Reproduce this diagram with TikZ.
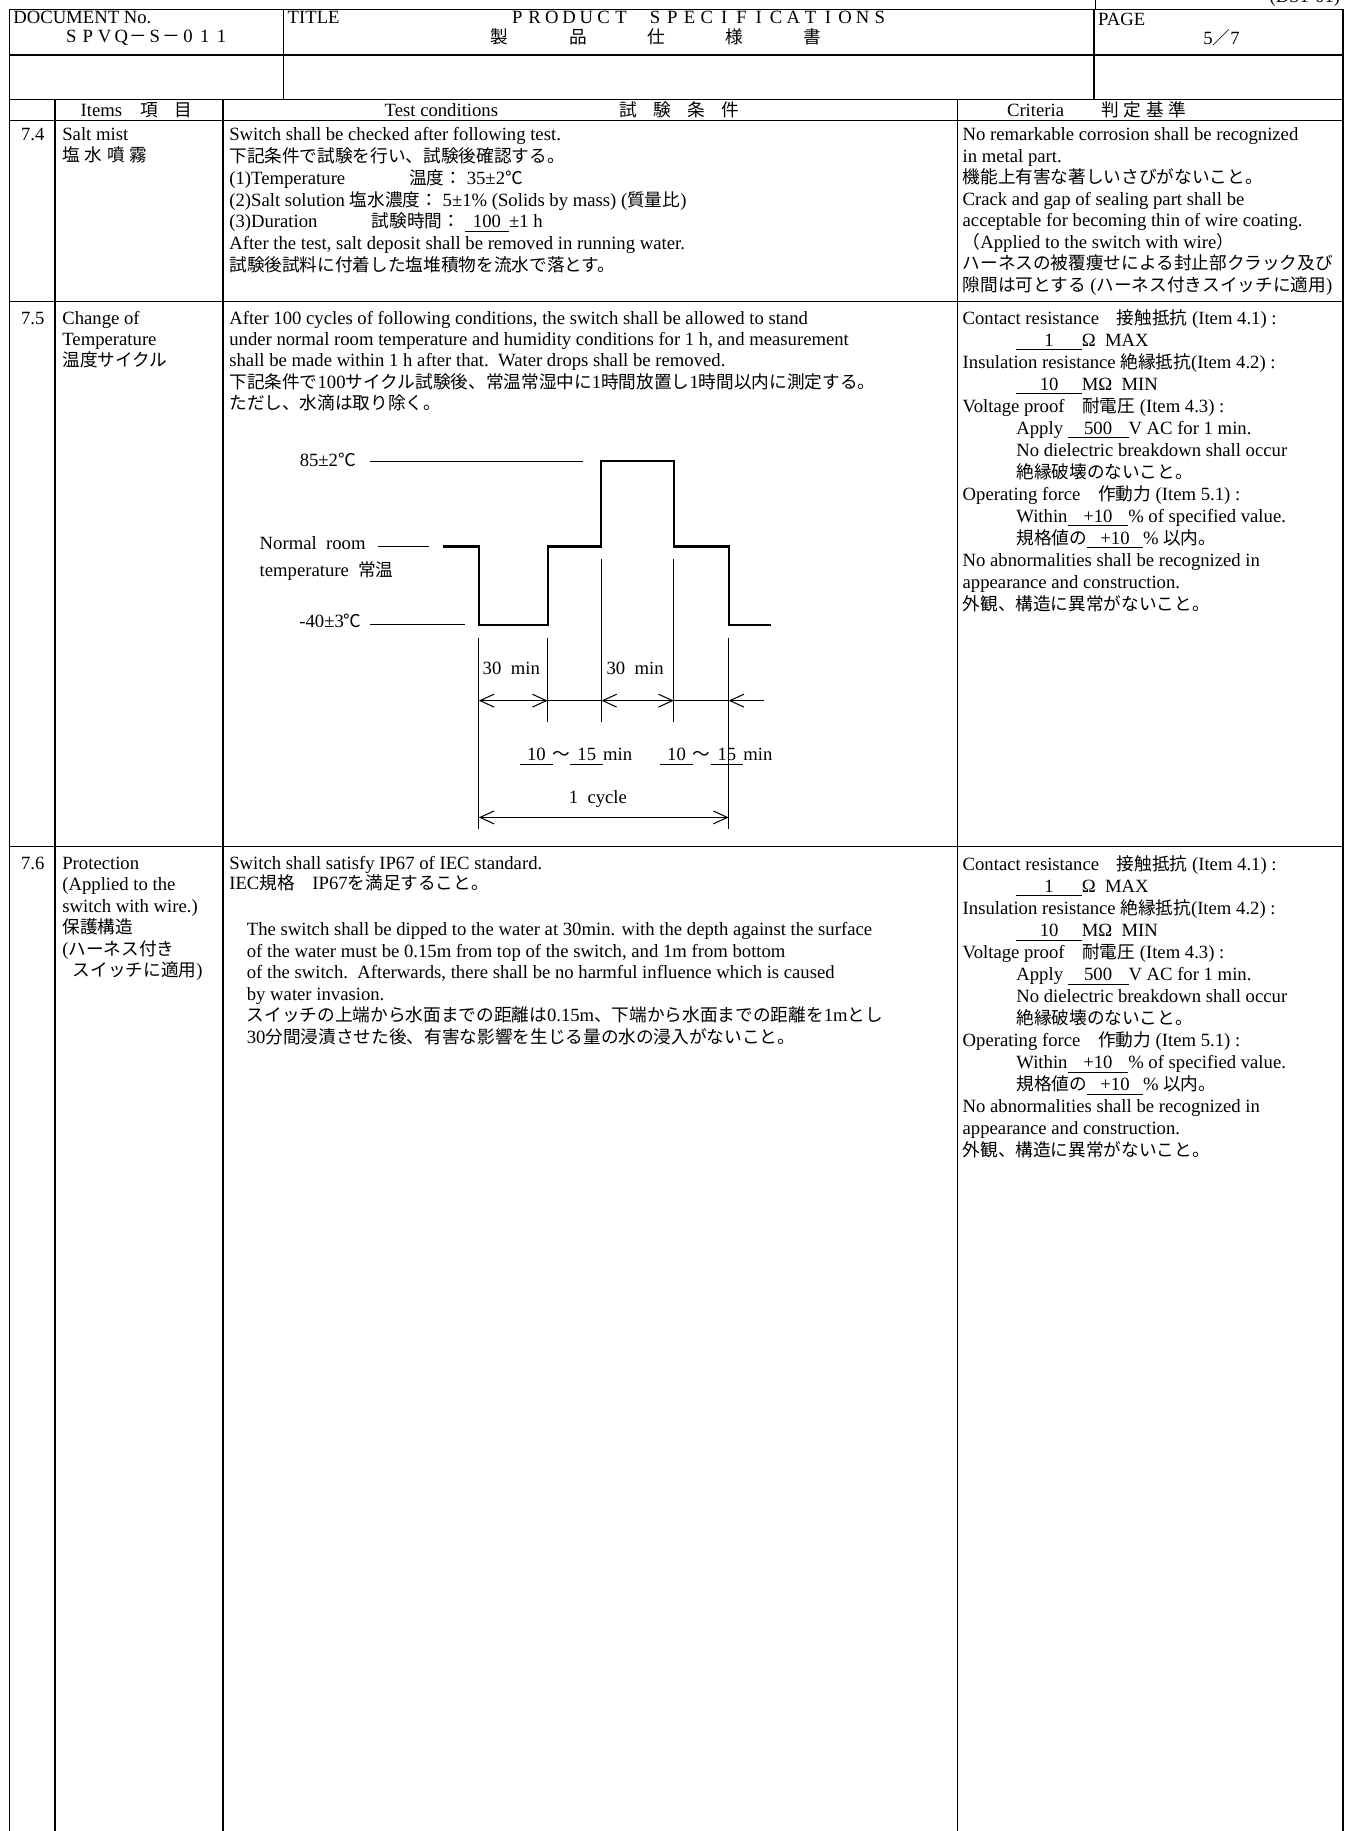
\documentclass[tikz,border=0pt]{standalone}
\usepackage{fontspec}
\setmainfont{Liberation Serif}
\newfontfamily\jp[Scale=0.945]{Noto Sans CJK JP}
\usetikzlibrary{arrows.meta}

% switch to the Japanese font for CJK characters
\newXeTeXintercharclass\cjkcls
\newcount\cjkcode
\newcommand\cjkrange[2]{\cjkcode=#1\relax
  \loop\XeTeXcharclass\cjkcode=\cjkcls\relax
  \ifnum\cjkcode<#2\relax\advance\cjkcode by 1\relax\repeat}
\cjkrange{"3000}{"30FF}
\cjkrange{"4E00}{"9FFF}
\cjkrange{"FF00}{"FFEF}
\XeTeXcharclass"2103=\cjkcls
\def\backlatin{\rmfamily}
\XeTeXinterchartoks 0 \cjkcls = {\jp}
\XeTeXinterchartoks 4095 \cjkcls = {\jp}
\XeTeXinterchartoks \cjkcls 0 = {\backlatin}
\XeTeXinterchartoks \cjkcls 4095 = {\backlatin}
\XeTeXinterchartokenstate=1

\newcommand\fillin[2][20pt]{\underline{\makebox[#1]{#2}}}

\begin{document}
\begin{tikzpicture}[x=0.5pt,y=-0.5pt,
  txt/.style={font=\fontsize{8}{9.4}\selectfont,inner sep=0pt,text height=6.5pt,text depth=2pt,anchor=west},
  rule/.style={line width=0.6pt},
  guide/.style={line width=0.45pt},
  wave/.style={line width=0.9pt},
  >={Straight Barb[length=6pt,width=5.5pt]}]
\useasboundingbox (0,0) rectangle (1155,1568);

% sheet frame
\foreach \y in {8,47,85,103,258,725}
	\draw[rule] (8,\y) -- (1150,\y);
\draw[rule] (8,8) -- (8,1568);
\draw[rule] (1150,8) -- (1150,1568);
\foreach \x in {243,937}
	\draw[rule] (\x,8) -- (\x,85);
\foreach \x in {47,191,820}
	\draw[rule] (\x,85) -- (\x,1568);
\draw[guide] (938,0) -- (938,8);

% header
\node[txt,anchor=east] (form) at (1148,-2) {(DS1-01)};
\node[txt] (docno) at (11,16) {DOCUMENT No.};
\foreach \c [count=\i from 0] in {S,P,V,Q,－,S,－,0,1,1}
	\node[txt,anchor=center] (docid-\i) at (61+14.3*\i,32) {\c};
\node[txt] (title) at (246,16) {TITLE};
\foreach \c [count=\i from 0] in {P,R,O,D,U,C,T}
	\node[txt,anchor=center] (prod-\i) at (443+14.8*\i,16) {\c};
\foreach \c [count=\i from 0] in {S,P,E,C,I,F,I,C,A,T,I,O,N,S}
	\node[txt,anchor=center] (spec-\i) at (561+14.8*\i,16) {\c};
\foreach \c [count=\i from 0] in {製,品,仕,様,書}
	\node[txt,anchor=center] (ttl-\i) at (428+67*\i,33) {\c};
\node[txt] (page) at (940,17) {PAGE};
\node[txt,anchor=center] (pageno) at (1046,34) {5／7};

% column heads
\node[txt,anchor=center] (h-items) at (117,95) {Items\hspace{8pt}項\hspace{7pt}目};
\node[txt,anchor=center] (h-test) at (378,95) {Test conditions};
\node[txt] (h-testjp) at (530,95) {試\hspace{7pt}験\hspace{7pt}条\hspace{7pt}件};
\node[txt] (h-crit) at (862,95) {Criteria\hspace{16pt}判 定 基 準};

\foreach \n/\y [count=\i] in {7.4/116,7.5/273,7.6/740}
	\node[txt,anchor=center] (no-\i) at (28,\y) {\n};

% items
\foreach \t [count=\i from 0] in {{Salt mist}, {塩 水 噴 霧}}
	\node[txt] (it4-\i) at (53,116+17.5*\i) {\t};
\foreach \t [count=\i from 0] in {{Change of}, {Temperature}, {温度サイクル}}
	\node[txt] (it5-\i) at (53,273+18*\i) {\t};
\foreach \t [count=\i from 0] in {{Protection}, {(Applied to the}, {switch with wire.)}, {保護構造}, {(ハーネス付き}, {\hspace*{4.5pt}スイッチに適用)}}
	\node[txt] (it6-\i) at (53,740+18.4*\i) {\t};

% test conditions
\foreach \t [count=\i from 0] in {
	{Switch shall be checked after following test.},
	{下記条件で試験を行い、試験後確認する。},
	{\makebox[77pt][l]{(1)Temperature}温度： 35±2℃},
	{(2)Salt solution 塩水濃度： 5±1\% (Solids by mass) (質量比)},
	{\makebox[61pt][l]{(3)Duration}試験時間： \fillin[19pt]{100}±1 h},
	{After the test, salt deposit shall be removed in running water.},
	{試験後試料に付着した塩堆積物を流水で落とす。}}
	\node[txt] (ts4-\i) at (196,116+18.67*\i) {\t};
\foreach \t [count=\i from 0] in {
	{After 100 cycles of following conditions, the switch shall be allowed to stand},
	{under normal room temperature and humidity conditions for 1 h, and measurement},
	{shall be made within 1 h after that.\ \ Water drops shall be removed.},
	{下記条件で100サイクル試験後、常温常湿中に1時間放置し1時間以内に測定する。},
	{ただし、水滴は取り除く。}}
	\node[txt] (ts5-\i) at (196,273+18.3*\i) {\t};
\node[txt] (ts6-a) at (196,740) {Switch shall satisfy IP67 of IEC standard.};
\node[txt] (ts6-b) at (196,757) {IEC規格　IP67を満足すること。};
\foreach \t [count=\i from 0] in {
	{The switch shall be dipped to the water at 30min. with the depth against the surface},
	{of the water must be 0.15m from top of the switch, and 1m from bottom},
	{of the switch.\ \ Afterwards, there shall be no harmful influence which is caused},
	{by water invasion.},
	{スイッチの上端から水面までの距離は0.15m、下端から水面までの距離を1mとし},
	{30分間浸漬させた後、有害な影響を生じる量の水の浸入がないこと。}}
	\node[txt] (ts6-\i) at (211,797+18.4*\i) {\t};

% criteria
\foreach \t [count=\i from 0] in {
	{No remarkable corrosion shall be recognized},
	{in metal part.},
	{機能上有害な著しいさびがないこと。},
	{Crack and gap of sealing part shall be},
	{acceptable for becoming thin of wire coating.},
	{（Applied to the switch with wire）},
	{ハーネスの被覆痩せによる封止部クラック及び},
	{隙間は可とする (ハーネス付きスイッチに適用)}}
	\node[txt] (cr4-\i) at (824,116+18.4*\i) {\t};
\foreach \y/\r in {273/5,741/6}
\foreach \t [count=\i from 0] in {
	{Contact resistance　接触抵抗 (Item 4.1) :},
	{\hspace*{23pt}\fillin[28pt]{1}Ω\ \ MAX},
	{Insulation resistance 絶縁抵抗(Item 4.2) :},
	{\hspace*{23pt}\fillin[28pt]{10}MΩ\ \ MIN},
	{Voltage proof　耐電圧 (Item 4.3) :},
	{\hspace*{23pt}Apply \fillin[26pt]{500}V AC for 1 min.},
	{\hspace*{23pt}No dielectric breakdown shall occur},
	{\hspace*{23pt}絶縁破壊のないこと。},
	{Operating force　作動力 (Item 5.1) :},
	{\hspace*{23pt}Within\fillin[26pt]{+10}\% of specified value.},
	{\hspace*{23pt}規格値の\fillin[24pt]{+10}\% 以内。},
	{No abnormalities shall be recognized in},
	{appearance and construction.},
	{外観、構造に異常がないこと。}}
	\node[txt] (cr\r-\i) at (824,\y+18.85*\i) {\t};

% temperature cycle chart
\node[txt,anchor=east] (lv-hot) at (305,395) {85±2℃};
\node[txt] (lv-room) at (222,466) {Normal\ \ room};
\node[txt] (lv-room2) at (222,489) {temperature\ \ 常温};
\node[txt,anchor=east] (lv-cold) at (310,533) {-40±3℃};
\draw[guide] (317,395) -- (499,395);
\draw[guide] (324,468) -- (367,468);
\draw[guide] (317,535) -- (398,535);
\draw[wave] (379,468) -| (410,535) -| (469,468) -| (515,395) -| (577,468) -| (624,535) -- (660,535);
\draw[guide] (410,546) -- (410,710);
\draw[guide] (469,546) -- (469,618);
\draw[guide] (515,479) -- (515,618);
\draw[guide] (577,479) -- (577,618);
\draw[guide] (624,546) -- (624,710);

\coordinate (m0) at (410,600);
\coordinate (m1) at (469,600);
\coordinate (m2) at (515,600);
\coordinate (m3) at (577,600);
\coordinate (m4) at (624,600);
\coordinate (m5) at (654,600);
\draw[guide,<->] (m0) -- (m1);
\draw[guide] (m1) -- (m2);
\draw[guide,<->] (m2) -- (m3);
\draw[guide] (m3) -- (m4);
\draw[guide,->] (m5) -- (m4);
\coordinate (cy0) at (410,700);
\coordinate (cy1) at (624,700);
\draw[guide,<->] (cy0) -- (cy1);

\node[txt] (soak1) at (413,573) {30\ \ min};
\node[txt] (soak2) at (519,573) {30\ \ min};
\node[txt] (move1) at (445,647) {\fillin[14pt]{10}～\fillin[14pt]{15}min};
\node[txt] (move2) at (565,647) {\fillin[14pt]{10}～\fillin[14pt]{15}min};
\node[txt,anchor=center] (cycle) at (512,684) {1\ \ cycle};
\end{tikzpicture}
\end{document}
